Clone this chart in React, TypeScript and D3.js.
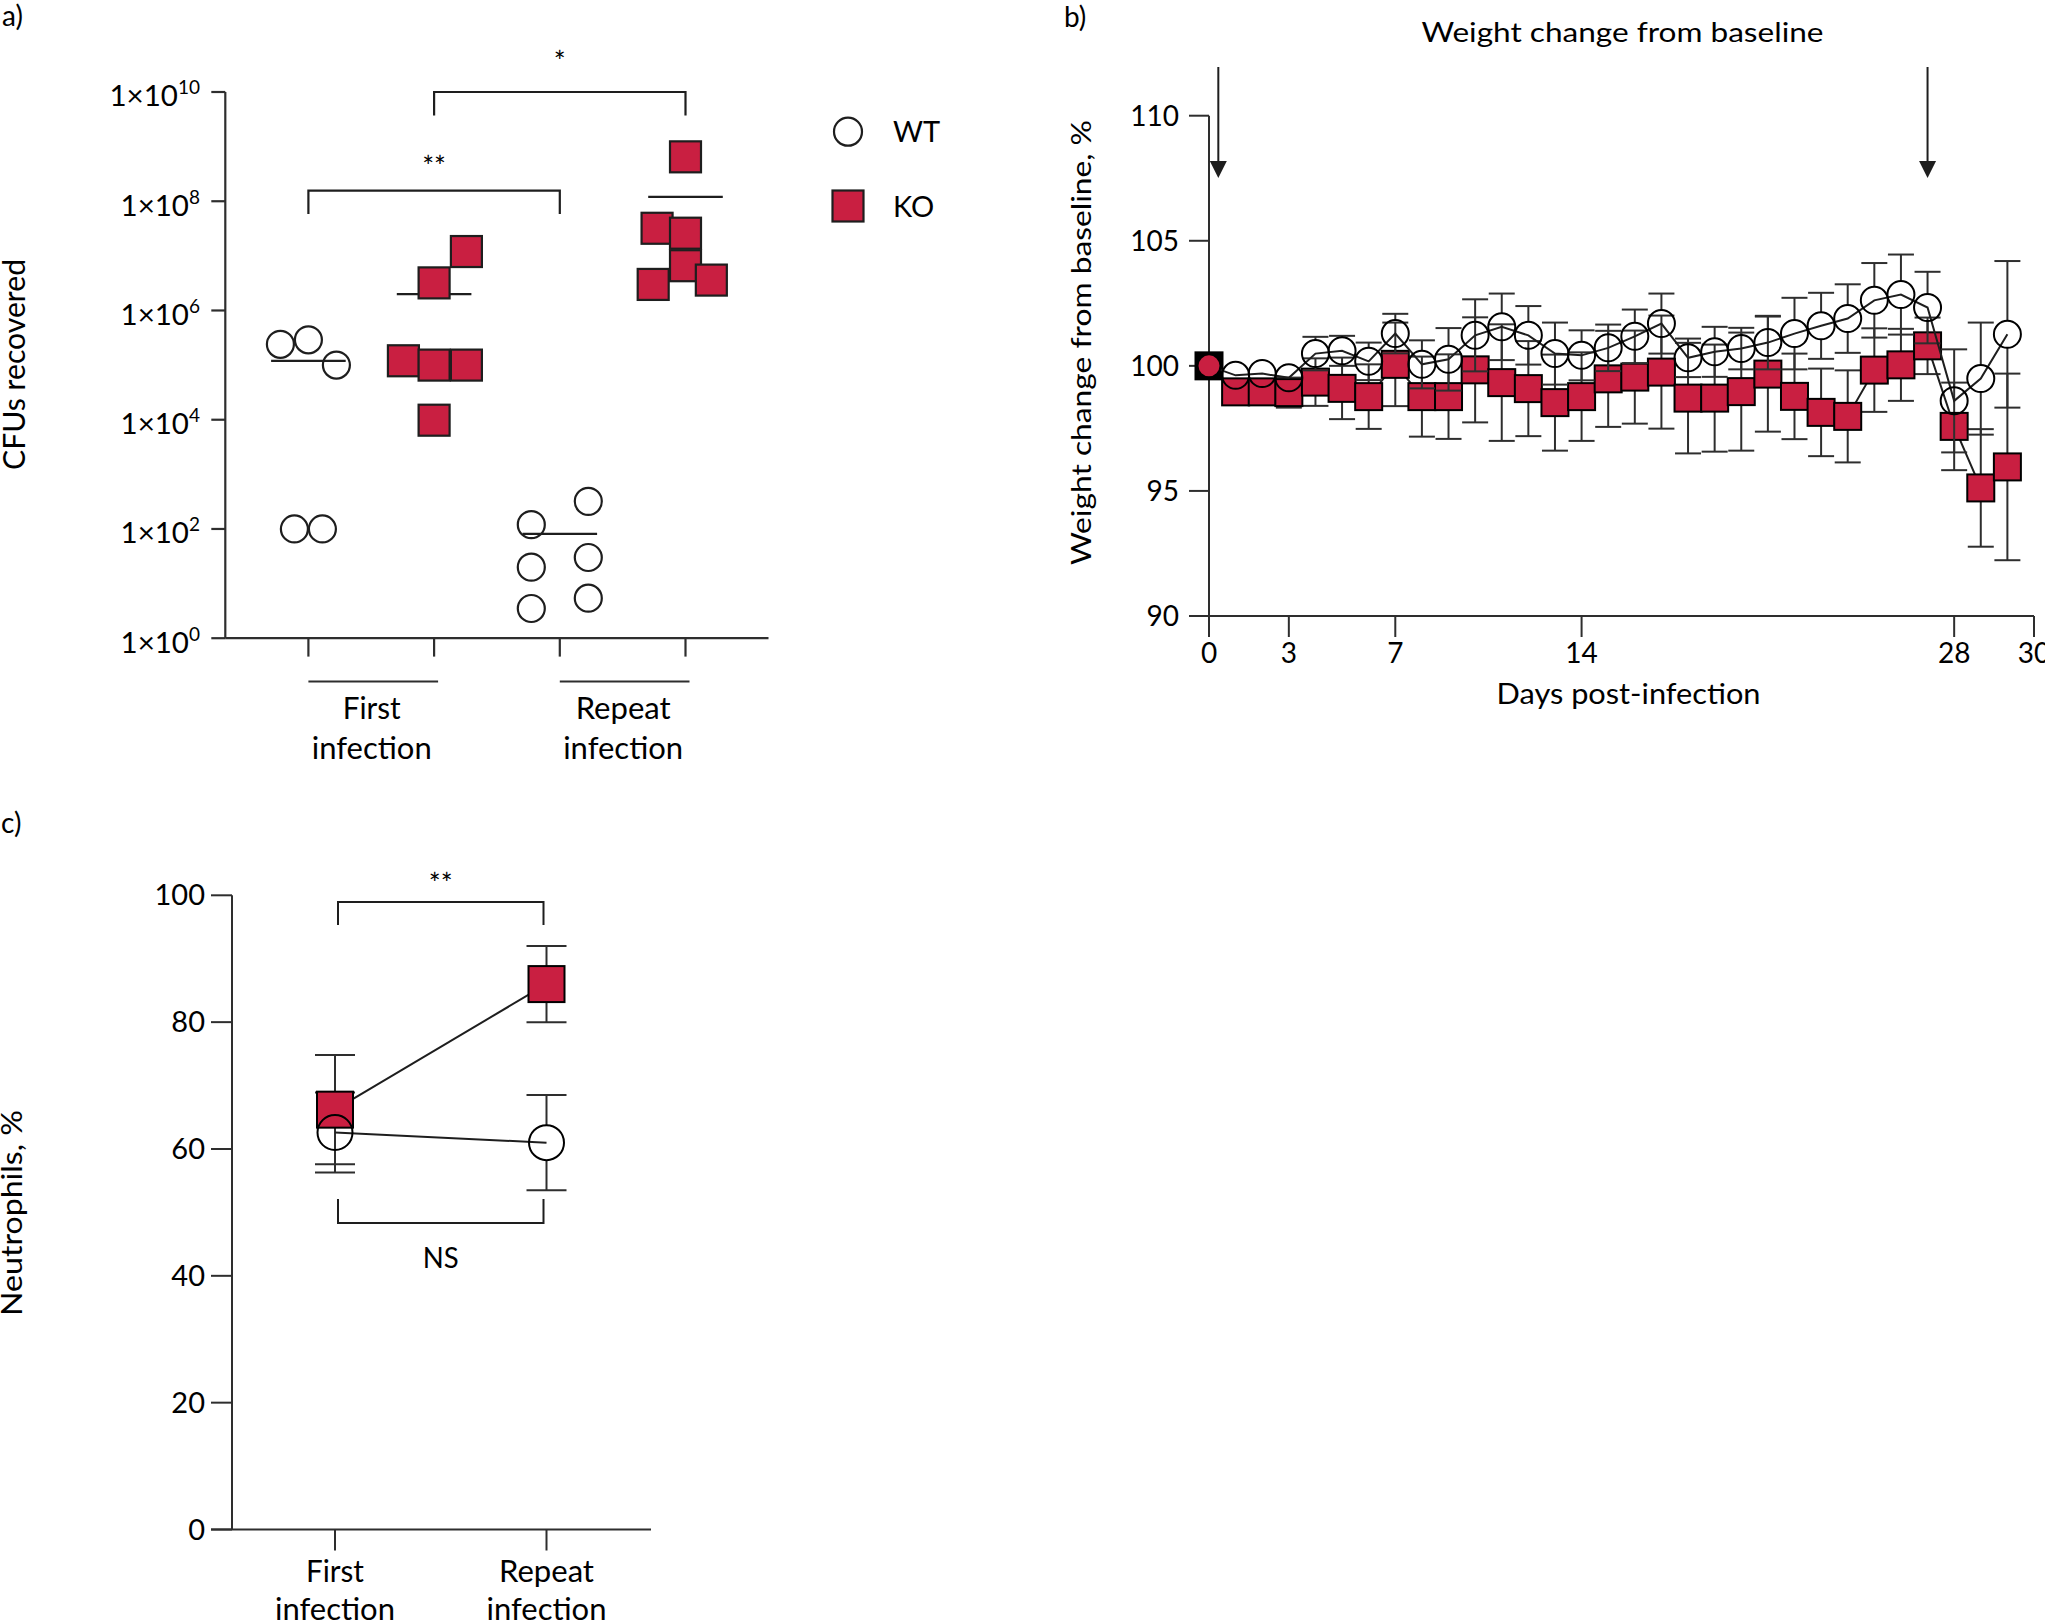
import React from 'react';
import * as d3 from 'd3';

// ---------------- Panel a: CFUs recovered ----------------
const cfuGroups = ['WT-First', 'KO-First', 'WT-Repeat', 'KO-Repeat'];
const wtFirstCfu = [2.4e5, 2.9e5, 1.0e5, 100, 100];
const wtFirstJitter = [-1, 0, 1, -0.5, 0.5];
const koFirstCfu = [3.2e6, 1.2e7, 1.2e5, 1.0e5, 1.0e5, 9.8e3];
const koFirstJitter = [0, 1, -0.95, 0, 1, 0];
const wtRepeatCfu = [120, 320, 20, 30, 3.5, 5.4];
const wtRepeatJitter = [-1, 1, -1, 1, -1, 1];
const koRepeatCfu = [6.5e8, 3.2e7, 2.6e7, 6.6e6, 3.0e6, 3.6e6];
const koRepeatJitter = [0, -0.88, 0, 0, -1, 0.8];
const cfuMedians = [1.2e5, 2.0e6, 81, 1.2e8];
const cfuTickExponents = [0, 2, 4, 6, 8, 10];
const infectionLabels = [['First', 'infection'], ['Repeat', 'infection']];
const legendItems = ['WT', 'KO'];

// ---------------- Panel b: weight change ----------------
const days = [0, 1, 2, 3, 4, 5, 6, 7, 8, 9, 10, 11, 12, 13, 14, 15, 16, 17, 18, 19, 20, 21, 22, 23, 24, 25, 26, 27, 28, 29, 30];
const wtWeight = [100, 99.62, 99.69, 99.52, 100.49, 100.6, 100.18, 101.29, 100.06, 100.26, 101.22, 101.56, 101.22, 100.49, 100.42, 100.72, 101.18, 101.69, 100.32, 100.56, 100.69, 100.93, 101.29, 101.6, 101.89, 102.62, 102.85, 102.33, 98.6, 99.49, 101.26];
const wtWeightErr = [0, 0.3, 0.3, 0.3, 0.67, 0.6, 0.75, 0.79, 0.96, 1.25, 1.44, 1.33, 1.17, 1.24, 1.0, 0.93, 1.07, 1.2, 0.77, 1.0, 0.83, 1.07, 1.43, 1.32, 1.37, 1.49, 1.6, 1.43, 2.06, 2.24, 2.93];
const koWeight = [100, 98.96, 98.96, 98.93, 99.35, 99.1, 98.77, 100.06, 98.77, 98.77, 99.84, 99.33, 99.09, 98.53, 98.77, 99.48, 99.55, 99.75, 98.71, 98.71, 98.97, 99.67, 98.78, 98.14, 97.98, 99.83, 100.04, 100.8, 97.58, 95.12, 95.96];
const koWeightErr = [0, 0.5, 0.5, 0.6, 0.95, 1.23, 1.29, 1.67, 1.6, 1.69, 2.1, 2.33, 1.9, 1.92, 1.77, 1.92, 1.86, 2.26, 2.21, 2.14, 2.36, 2.3, 1.71, 1.75, 1.84, 1.67, 1.44, 1.13, 1.75, 2.35, 3.73];
const weightTicks = [90, 95, 100, 105, 110];
const dayTickValues = [0, 3, 7, 14, 28, 31];
const dayTickLabels = ['0', '3', '7', '14', '28', '30'];
const infectionArrowDays = [0.35, 27];

// ---------------- Panel c: neutrophils ----------------
const neutroGroups = ['First infection', 'Repeat infection'];
const wtNeutro = [62.6, 61.0];
const wtNeutroErr = [6.3, 7.5];
const koNeutro = [66.2, 86.0];
const koNeutroErr = [8.6, 6.0];
const neutroTicks = [0, 20, 40, 60, 80, 100];

const RED = '#c91f41';
const INK = '#1e1e1e';
const AXIS = '#2e2e2e';
const FONT = 'Lato, "Noto Sans", sans-serif';

const LBL_W: Record<string, number> = { First: 58, Repeat: 95, infection: 120 };

function Label(props: { x: number; y: number; text: string; size: number; width?: number; anchor?: string; rotate?: boolean }) {
  const { x, y, text, size, width, anchor = 'middle', rotate } = props;
  return (
    <text
      transform={rotate ? `translate(${x},${y}) rotate(-90)` : undefined}
      x={rotate ? 0 : x}
      y={rotate ? 0 : y}
      textAnchor={anchor}
      fontSize={size}
      fontFamily={FONT}
      fill="#000"
      textLength={width}
      lengthAdjust={width ? 'spacingAndGlyphs' : undefined}
    >
      {text}
    </text>
  );
}

function PanelA() {
  const y = d3.scaleLog().domain([1, 1e10]).range([638.2, 92]);
  const x = d3.scalePoint<string>().domain(cfuGroups).range([308.4, 685.5]);
  const ax = 225.3;
  const r = 13.5;
  const sq = 31;
  const series = [
    { g: 'WT-First', kind: 'wt', vals: wtFirstCfu, jit: wtFirstJitter, unit: 28 },
    { g: 'KO-First', kind: 'ko', vals: koFirstCfu, jit: koFirstJitter, unit: 32.3 },
    { g: 'WT-Repeat', kind: 'wt', vals: wtRepeatCfu, jit: wtRepeatJitter, unit: 28.5 },
    { g: 'KO-Repeat', kind: 'ko', vals: koRepeatCfu, jit: koRepeatJitter, unit: 32.3 },
  ];
  const y0 = y(1);
  const pairs = [
    { a: 'WT-First', b: 'WT-Repeat', level: 1.57e8, label: '**', gap: 13.5 },
    { a: 'KO-First', b: 'KO-Repeat', level: 1e10, label: '*', gap: 20 },
  ];
  const groupPairs = [['WT-First', 'KO-First'], ['WT-Repeat', 'KO-Repeat']];
  return (
    <g>
      <text x={2} y={26} fontSize={28} fontFamily={FONT}>a)</text>
      <line x1={ax} x2={ax} y1={y(1e10)} y2={y0} stroke={AXIS} strokeWidth={2.2} />
      {cfuTickExponents.map((e) => (
        <g key={e}>
          <line x1={ax - 14} x2={ax} y1={y(Math.pow(10, e))} y2={y(Math.pow(10, e))} stroke={AXIS} strokeWidth={2.2} />
          <text x={200} y={y(Math.pow(10, e)) + 14.4} textAnchor="end" fontSize={29.5} fontFamily={FONT}>
            <tspan>1×10</tspan>
            <tspan dy={-12} fontSize={19}>{e}</tspan>
          </text>
        </g>
      ))}
      <Label x={25} y={364.4} text="CFUs recovered" size={30} width={211} rotate />
      <line x1={ax} x2={768.5} y1={y0} y2={y0} stroke={AXIS} strokeWidth={2.2} />
      {cfuGroups.map((g) => (
        <line key={g} x1={x(g)} x2={x(g)} y1={y0} y2={y0 + 18.4} stroke={AXIS} strokeWidth={2.2} />
      ))}
      {groupPairs.map((p, i) => {
        const x1 = x(p[0])!;
        const x2 = x(p[1])! + 4;
        const cx = (x1 + x2) / 2 - 1.5;
        return (
          <g key={i}>
            <line x1={x1} x2={x2} y1={681.5} y2={681.5} stroke={AXIS} strokeWidth={2.2} />
            <Label x={cx} y={718.8} text={infectionLabels[i][0]} size={30} width={LBL_W[infectionLabels[i][0]]} />
            <Label x={cx} y={758.6} text={infectionLabels[i][1]} size={30} width={LBL_W[infectionLabels[i][1]]} />
          </g>
        );
      })}
      {pairs.map((p) => {
        const yy = y(p.level);
        const x1 = x(p.a)!;
        const x2 = x(p.b)!;
        return (
          <g key={p.label}>
            <path d={`M${x1},${yy + 23.5}V${yy}H${x2}V${yy + 23.5}`} fill="none" stroke={INK} strokeWidth={2.2} />
            <text x={(x1 + x2) / 2} y={yy - p.gap} textAnchor="middle" fontSize={28} fontFamily={FONT}>
              {p.label}
            </text>
          </g>
        );
      })}
      {cfuGroups.map((g, i) => (
        <line key={g} x1={x(g)! - 37.3} x2={x(g)! + 37.3} y1={y(cfuMedians[i])} y2={y(cfuMedians[i])} stroke={INK} strokeWidth={2.2} />
      ))}
      {series.map((s) =>
        s.vals.map((v, i) => {
          const cx = x(s.g)! + s.jit[i] * s.unit;
          const cy = y(v);
          return s.kind === 'wt' ? (
            <circle key={s.g + i} cx={cx} cy={cy} r={r} fill="none" stroke={INK} strokeWidth={2.2} />
          ) : (
            <rect key={s.g + i} x={cx - sq / 2} y={cy - sq / 2} width={sq} height={sq} fill={RED} stroke={INK} strokeWidth={2.2} />
          );
        })
      )}
      {legendItems.map((l, i) => {
        const ly = 131.7 + i * 74.3;
        return (
          <g key={l}>
            {i === 0 ? (
              <circle cx={848} cy={ly} r={14} fill="none" stroke={INK} strokeWidth={2.2} />
            ) : (
              <rect x={848 - 15.5} y={ly - 15.5} width={31} height={31} fill={RED} stroke={INK} strokeWidth={2.2} />
            )}
            <text x={893} y={ly + 10.5} fontSize={29} fontFamily={FONT}>{l}</text>
          </g>
        );
      })}
    </g>
  );
}

function PanelB() {
  const x = d3.scaleLinear().domain([0, 31]).range([1209, 2034]);
  const y = d3.scaleLinear().domain([90, 110]).range([616, 115.7]);
  const ax = x(0);
  const y0 = y(90);
  const r = 13.5;
  const sq = 27;
  const cap = 13;
  const line = d3.line<number>().x((_, i) => x(days[i])).y((v) => y(v));
  return (
    <g>
      <text x={1064} y={27} fontSize={28} fontFamily={FONT}>b)</text>
      <Label x={1622.5} y={42} text="Weight change from baseline" size={27} width={402} />
      <line x1={ax} x2={ax} y1={y(110)} y2={y0} stroke={AXIS} strokeWidth={2} />
      {weightTicks.map((t) => (
        <g key={t}>
          <line x1={ax - 20} x2={ax} y1={y(t)} y2={y(t)} stroke={AXIS} strokeWidth={2} />
          <text x={1179} y={y(t) + 10} textAnchor="end" fontSize={28} fontFamily={FONT}>{t}</text>
        </g>
      ))}
      <line x1={ax} x2={x(31)} y1={y0} y2={y0} stroke={AXIS} strokeWidth={2} />
      {dayTickValues.map((d, i) => (
        <g key={d}>
          <line x1={x(d)} x2={x(d)} y1={y0} y2={y0 + 21} stroke={AXIS} strokeWidth={2} />
          <text x={x(d)} y={663} textAnchor="middle" fontSize={28} fontFamily={FONT}>{dayTickLabels[i]}</text>
        </g>
      ))}
      <Label x={1628.5} y={704} text="Days post-infection" size={28} width={264} />
      <Label x={1091} y={342.5} text="Weight change from baseline, %" size={27} width={445} rotate />
      {infectionArrowDays.map((d) => (
        <g key={d}>
          <line x1={x(d)} x2={x(d)} y1={67} y2={165} stroke={INK} strokeWidth={2} />
          <path d={`M${x(d) - 8.5},161L${x(d) + 8.5},161L${x(d)},178Z`} fill={INK} />
        </g>
      ))}
      {koWeight.map((v, i) => (
        <g key={'ke' + i}>
          <line x1={x(days[i])} x2={x(days[i])} y1={y(v - koWeightErr[i])} y2={y(v + koWeightErr[i])} stroke={AXIS} strokeWidth={2} />
          <line x1={x(days[i]) - cap} x2={x(days[i]) + cap} y1={y(v - koWeightErr[i])} y2={y(v - koWeightErr[i])} stroke={AXIS} strokeWidth={2} />
          <line x1={x(days[i]) - cap} x2={x(days[i]) + cap} y1={y(v + koWeightErr[i])} y2={y(v + koWeightErr[i])} stroke={AXIS} strokeWidth={2} />
        </g>
      ))}
      <path d={line(koWeight)!} fill="none" stroke={INK} strokeWidth={2} />
      {koWeight.map((v, i) => (
        <rect key={'k' + i} x={x(days[i]) - sq / 2} y={y(v) - sq / 2} width={sq} height={sq} fill={days[i] === 0 ? '#000' : RED} stroke="#000" strokeWidth={2} />
      ))}
      {wtWeight.map((v, i) => {
        const cx = x(days[i]);
        const top = y(v + wtWeightErr[i]);
        const bot = y(v - wtWeightErr[i]);
        if (wtWeightErr[i] * 25 < r) return null;
        return (
          <g key={'we' + i}>
            <line x1={cx} x2={cx} y1={top} y2={y(v) - r} stroke={AXIS} strokeWidth={2} />
            <line x1={cx} x2={cx} y1={y(v) + r} y2={bot} stroke={AXIS} strokeWidth={2} />
            <line x1={cx - cap} x2={cx + cap} y1={top} y2={top} stroke={AXIS} strokeWidth={2} />
            <line x1={cx - cap} x2={cx + cap} y1={bot} y2={bot} stroke={AXIS} strokeWidth={2} />
          </g>
        );
      })}
      <path d={line(wtWeight)!} fill="none" stroke={INK} strokeWidth={2} />
      {wtWeight.map((v, i) => (
        <circle key={'w' + i} cx={x(days[i])} cy={y(v)} r={days[i] === 0 ? 11.5 : r} fill={days[i] === 0 ? RED : 'none'} stroke="#000" strokeWidth={2} />
      ))}
    </g>
  );
}

function PanelC() {
  const x = d3.scalePoint<string>().domain(neutroGroups).range([335, 546.5]);
  const y = d3.scaleLinear().domain([0, 100]).range([1529.5, 895.3]);
  const ax = 232;
  const y0 = y(0);
  const r = 17.5;
  const sq = 36;
  const cap = 20;
  const line = d3.line<number>().x((_, i) => x(neutroGroups[i])!).y((v) => y(v));
  const xs = neutroGroups.map((g) => x(g)!);
  return (
    <g>
      <text x={1} y={833} fontSize={28} fontFamily={FONT}>c)</text>
      <line x1={ax} x2={ax} y1={y(100)} y2={y0} stroke={AXIS} strokeWidth={2} />
      {neutroTicks.map((t) => (
        <g key={t}>
          <line x1={ax - 21} x2={ax} y1={y(t)} y2={y(t)} stroke={AXIS} strokeWidth={2} />
          <text x={205} y={y(t) + 10} textAnchor="end" fontSize={29} fontFamily={FONT}>{t}</text>
        </g>
      ))}
      <line x1={ax - 21} x2={651} y1={y0} y2={y0} stroke={AXIS} strokeWidth={2} />
      {neutroGroups.map((g, i) => (
        <g key={g}>
          <line x1={xs[i]} x2={xs[i]} y1={y0} y2={y0 + 21} stroke={AXIS} strokeWidth={2} />
          <Label x={xs[i]} y={1582} text={infectionLabels[i][0]} size={30} width={LBL_W[infectionLabels[i][0]]} />
          <Label x={xs[i]} y={1620} text={infectionLabels[i][1]} size={30} width={LBL_W[infectionLabels[i][1]]} />
        </g>
      ))}
      <Label x={22} y={1213} text="Neutrophils, %" size={29} width={206} rotate />
      <path d={`M${xs[0] + 3},925V902H${xs[1] - 3}V925`} fill="none" stroke={INK} strokeWidth={2} />
      <text x={(xs[0] + xs[1]) / 2} y={893.5} textAnchor="middle" fontSize={28} fontFamily={FONT}>**</text>
      <path d={`M${xs[0] + 3},1199V1223H${xs[1] - 3}V1199`} fill="none" stroke={INK} strokeWidth={2} />
      <Label x={(xs[0] + xs[1]) / 2} y={1268} text="NS" size={29} width={36} />
      {koNeutro.map((v, i) => (
        <g key={'ke' + i}>
          <line x1={xs[i]} x2={xs[i]} y1={y(v - koNeutroErr[i])} y2={y(v + koNeutroErr[i])} stroke={AXIS} strokeWidth={2} />
          <line x1={xs[i] - cap} x2={xs[i] + cap} y1={y(v - koNeutroErr[i])} y2={y(v - koNeutroErr[i])} stroke={AXIS} strokeWidth={2} />
          <line x1={xs[i] - cap} x2={xs[i] + cap} y1={y(v + koNeutroErr[i])} y2={y(v + koNeutroErr[i])} stroke={AXIS} strokeWidth={2} />
        </g>
      ))}
      {wtNeutro.map((v, i) => {
        const top = y(v + wtNeutroErr[i]);
        const bot = y(v - wtNeutroErr[i]);
        return (
          <g key={'we' + i}>
            <line x1={xs[i]} x2={xs[i]} y1={top} y2={y(v) - r} stroke={AXIS} strokeWidth={2} />
            <line x1={xs[i]} x2={xs[i]} y1={y(v) + r} y2={bot} stroke={AXIS} strokeWidth={2} />
            <line x1={xs[i] - cap} x2={xs[i] + cap} y1={top} y2={top} stroke={AXIS} strokeWidth={2} />
            <line x1={xs[i] - cap} x2={xs[i] + cap} y1={bot} y2={bot} stroke={AXIS} strokeWidth={2} />
          </g>
        );
      })}
      <path d={line(koNeutro)!} fill="none" stroke={INK} strokeWidth={2} />
      {koNeutro.map((v, i) => (
        <rect key={'k' + i} x={xs[i] - sq / 2} y={y(v) - sq / 2} width={sq} height={sq} fill={RED} stroke="#000" strokeWidth={2} />
      ))}
      <path d={line(wtNeutro)!} fill="none" stroke={INK} strokeWidth={2} />
      {wtNeutro.map((v, i) => (
        <circle key={'w' + i} cx={xs[i]} cy={y(v)} r={r} fill="none" stroke="#000" strokeWidth={2} />
      ))}
    </g>
  );
}

export default function App() {
  return (
    <svg
      width={2045}
      height={1621}
      viewBox="0 0 2045 1621"
      style={{ position: 'absolute', left: 0, top: 0, background: '#fff', display: 'block' }}
    >
      <rect x={0} y={0} width={2045} height={1621} fill="#fff" />
      <PanelA />
      <PanelB />
      <PanelC />
    </svg>
  );
}
